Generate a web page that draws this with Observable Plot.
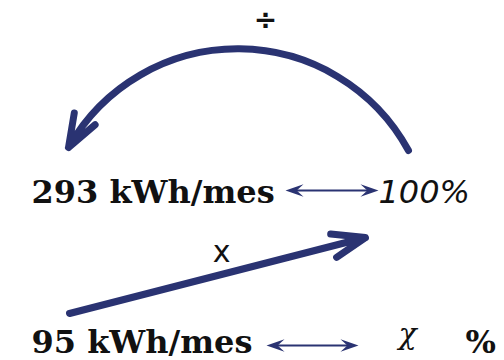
<!DOCTYPE html>
<html>
<head>
<meta charset="utf-8">
<script src="https://cdn.jsdelivr.net/npm/d3@7"></script>
<script src="https://cdn.jsdelivr.net/npm/@observablehq/plot@0.6"></script>
<style>
  html, body { margin: 0; padding: 0; background: #fff; }
  #chart svg { display: block; }
</style>
</head>
<body>
<div id="chart"></div>
<script>
// ---- content (data) ----
const quantities = ["293 kWh/mes", "95 kWh/mes"];
const shares = ["100%", "χ", "%"];
const operations = ["÷", "x"];

// ---- layout (diagram anchor points in a 504×360 coordinate space) ----
const quantityPos = [{x: 31, y: 202}, {x: 31, y: 352}];
const sharePos = [{x: 378, y: 202}, {x: 407, y: 343}, {x: 465, y: 352}];
const operationPos = [{x: 265, y: 20}, {x: 221, y: 252}];
const curvedArrow = [{x1: 408, y1: 150, x2: 68, y2: 147}];
const straightArrow = [{x1: 69, y1: 313, x2: 365, y2: 237}];
const equivalences = [{x1: 285, x2: 378, y: 190}, {x1: 266, x2: 358, y: 345}];

const navy = "#2a3372";

const headRight = {
  draw(ctx, size) {
    const r = Math.sqrt(size / Math.PI), L = 2 * r, W = 1.4 * r;
    ctx.moveTo(0, 0); ctx.lineTo(-L, -W / 2); ctx.lineTo(-0.62 * L, 0); ctx.lineTo(-L, W / 2); ctx.closePath();
  }
};
const headLeft = {
  draw(ctx, size) {
    const r = Math.sqrt(size / Math.PI), L = 2 * r, W = 1.4 * r;
    ctx.moveTo(0, 0); ctx.lineTo(L, -W / 2); ctx.lineTo(0.62 * L, 0); ctx.lineTo(L, W / 2); ctx.closePath();
  }
};

const quantityRows = quantities.map((t, i) => ({text: t, ...quantityPos[i]}));
const shareRows = shares.map((t, i) => ({text: t, ...sharePos[i]}));
const opRows = operations.map((t, i) => ({text: t, ...operationPos[i]}));

const chart = Plot.plot({
  width: 504,
  height: 360,
  margin: 0,
  x: {domain: [0, 504], range: [0, 504], axis: null},
  y: {domain: [0, 360], range: [0, 360], axis: null},
  marks: [
    Plot.arrow(curvedArrow, {x1: "x1", y1: "y1", x2: "x2", y2: "y2", bend: -61, stroke: navy, strokeWidth: 7, headAngle: 40, headLength: 7.5}),
    Plot.arrow(straightArrow, {x1: "x1", y1: "y1", x2: "x2", y2: "y2", stroke: navy, strokeWidth: 7, headAngle: 40, headLength: 7.5}),
    Plot.link(equivalences, {x1: (d) => d.x1 + 8, x2: (d) => d.x2 - 8, y1: "y", y2: "y", stroke: navy, strokeWidth: 2.2}),
    Plot.dot(equivalences, {x: "x1", y: "y", symbol: headLeft, r: 9, fill: navy, stroke: "none"}),
    Plot.dot(equivalences, {x: "x2", y: "y", symbol: headRight, r: 9, fill: navy, stroke: "none"}),
    Plot.text(quantityRows, {x: "x", y: "y", text: "text", textAnchor: "start", lineAnchor: "bottom", fontFamily: "DejaVu Serif", fontWeight: "bold", fontSize: 32, fill: "#111"}),
    Plot.text(shareRows.slice(0, 1), {x: "x", y: "y", text: "text", textAnchor: "start", lineAnchor: "bottom", fontFamily: "DejaVu Sans", fontStyle: "italic", fontSize: 32, fill: "#111"}),
    Plot.text(shareRows.slice(1, 2), {x: "x", y: "y", text: "text", textAnchor: "middle", lineAnchor: "bottom", fontFamily: "DejaVu Serif", fontStyle: "italic", fontSize: 30, fill: "#111"}),
    Plot.text(shareRows.slice(2, 3), {x: "x", y: "y", text: "text", textAnchor: "start", lineAnchor: "bottom", fontFamily: "DejaVu Serif", fontWeight: "bold", fontSize: 32, fill: "#111"}),
    Plot.text(opRows.slice(0, 1), {x: "x", y: "y", text: "text", textAnchor: "middle", lineAnchor: "middle", fontFamily: "DejaVu Sans", fontWeight: "bold", fontSize: 28, fill: "#111"}),
    Plot.text(opRows.slice(1, 2), {x: "x", y: "y", text: "text", textAnchor: "middle", lineAnchor: "middle", fontFamily: "DejaVu Sans", fontSize: 30, fill: "#111"})
  ]
});
document.getElementById("chart").appendChild(chart);
</script>
</body>
</html>
